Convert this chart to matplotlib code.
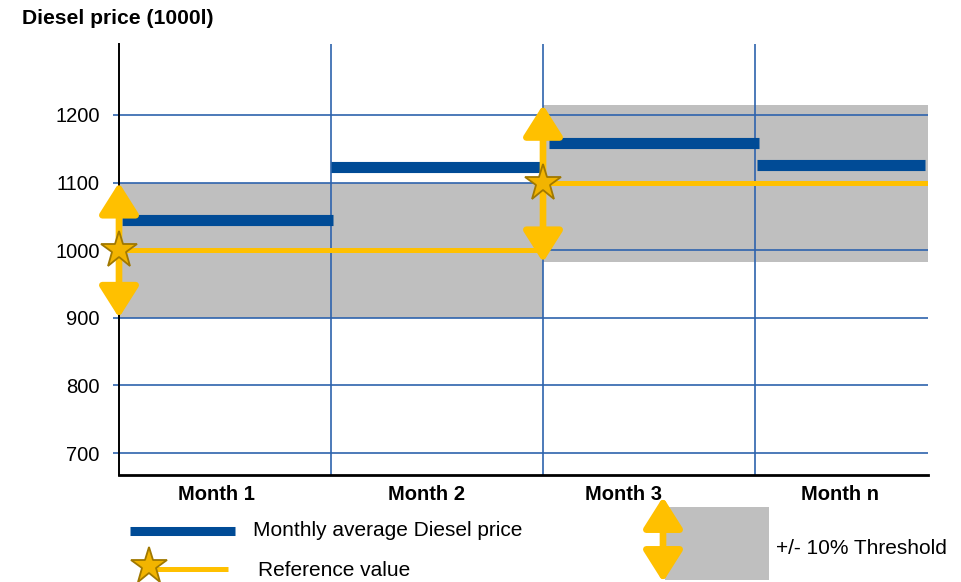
import numpy as np
import matplotlib.pyplot as plt
from matplotlib.patches import Rectangle

plt.rcParams['font.family'] = ['Liberation Sans', 'DejaVu Sans']

# dados
meses = ['Month 1', 'Month 2', 'Month 3', 'Month n']
media_mensal = [1044, 1123, 1158, 1126]
media_inicio = [0.015, 1.0, 2.03, 3.01]
media_fim = [1.01, 2.0, 3.02, 3.80]

referencia = [1000, 1100]
ref_inicio = [0.0, 2.0]
ref_fim = [2.0, 3.816]
limite_inf = [900, 982]
limite_sup = [1100, 1215]

y_ticks = [700, 800, 900, 1000, 1100, 1200]

azul = '#004b96'
amarelo = '#ffc000'
cinza = '#bfbfbf'
grade = '#2e63ad'
estrela = '#f2b400'
estrela_borda = '#a07800'

W, H = 961, 582
fig = plt.figure(figsize=(W / 100, H / 100), dpi=100)
ax = fig.add_axes([119 / W, (H - 475) / H, (928 - 119) / W, (475 - 44) / H])
ax.set_xlim(0, 3.816)
ax.set_ylim(667.5, 1305)

# faixas de +/- 10%
larguras = np.array(ref_fim) - np.array(ref_inicio)
alturas = np.array(limite_sup) - np.array(limite_inf)
ax.bar(ref_inicio, alturas, width=larguras, bottom=limite_inf, align='edge',
       color=cinza, zorder=1)

# grade
ax.set_yticks(y_ticks)
ax.set_xticks([1, 2, 3], minor=True)
ax.set_xticks([0.46, 1.45, 2.38, 3.40])
ax.set_xticklabels(meses, fontsize=14.5, fontweight='bold')
ax.grid(axis='y', which='major', color=grade, lw=1.2, zorder=1.5)
ax.grid(axis='x', which='minor', color=grade, lw=1.2, zorder=1.5)
ax.set_axisbelow('line')
ax.tick_params(axis='y', length=4, width=1.2, color=grade, labelsize=14.5, pad=10)
ax.tick_params(axis='x', which='both', length=0, pad=7)

for s in ['top', 'right']:
    ax.spines[s].set_visible(False)
ax.spines['left'].set_linewidth(1.4)
ax.spines['bottom'].set_linewidth(2)

# linha de referência e média mensal
ax.hlines(referencia, ref_inicio, ref_fim, color=amarelo, lw=3.6, zorder=3)
ax.hlines(media_mensal, media_inicio, media_fim, color=azul, lw=8, zorder=4)

# setas do limite
estilo_seta = '<|-|>,head_length=0.95,head_width=0.6'
for x0, lo, hi in zip(ref_inicio, limite_inf, limite_sup):
    ax.annotate('', xy=(x0, hi), xytext=(x0, lo),
                arrowprops=dict(arrowstyle=estilo_seta, color=amarelo, lw=4.8,
                                shrinkA=0, shrinkB=0, mutation_scale=20),
                zorder=5, annotation_clip=False)
ax.plot(ref_inicio, referencia, ls='none', marker='*', ms=28, mfc=estrela,
        mec=estrela_borda, mew=1.3, zorder=6, clip_on=False)

fig.text(22 / W, 1 - 18 / H, 'Diesel price (1000l)', fontsize=15.2,
         fontweight='bold', va='center', ha='left')

# legenda desenhada em coordenadas de pixel
lax = fig.add_axes([0, 0, 1, 1])
lax.set_xlim(0, W)
lax.set_ylim(H, 0)
lax.axis('off')
lax.plot([130, 235], [531, 531], color=azul, lw=6.5, solid_capstyle='butt')
lax.text(253, 531, 'Monthly average Diesel price', fontsize=15, va='center')
lax.plot([149, 228], [569, 569], color=amarelo, lw=3.6, solid_capstyle='butt')
lax.plot([149], [566], marker='*', ms=28, mfc=estrela, mec=estrela_borda, mew=1.3)
lax.text(258, 571, 'Reference value', fontsize=15, va='center')
lax.add_patch(Rectangle((665, 507), 104, 73, color=cinza, lw=0))
lax.annotate('', xy=(663, 497), xytext=(663, 582),
             arrowprops=dict(arrowstyle=estilo_seta, color=amarelo, lw=4.8,
                             shrinkA=0, shrinkB=0, mutation_scale=20))
lax.text(776, 549, '+/- 10% Threshold', fontsize=15, va='center')

fig.savefig('out.png', dpi=100)
